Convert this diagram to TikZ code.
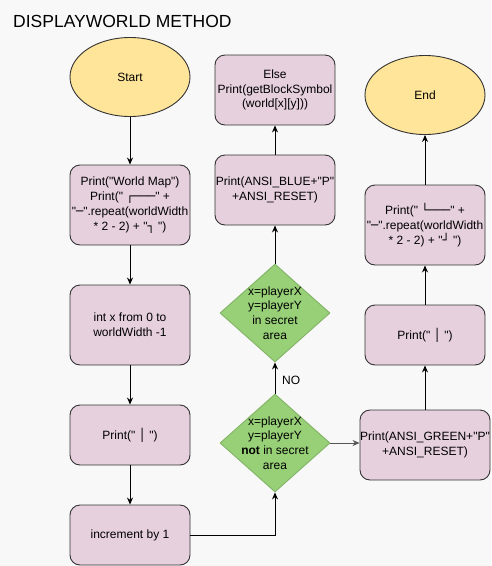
\documentclass[tikz,border=0pt]{standalone}
\usepackage{fontspec}
\newfontfamily\lsans{Liberation Sans}
\newfontfamily\bxfont{DejaVu Sans}
\usetikzlibrary{shapes.geometric,arrows.meta}
\definecolor{bg}{HTML}{F8F8F8}
\definecolor{pinkfill}{HTML}{E6D0DE}
\definecolor{yellowfill}{HTML}{FFE599}
\definecolor{greenfill}{HTML}{97D077}
\definecolor{greenline}{HTML}{82B366}
\definecolor{edgecol}{HTML}{333333}
\definecolor{greyarrow}{HTML}{555555}
\newcommand{\bx}[1]{{\bxfont #1}}
\begin{document}
\begin{tikzpicture}[x=1pt,y=-1pt,
  every node/.style={font=\lsans\fontsize{12}{14.8}\selectfont, align=center, inner sep=0pt},
  procbox/.style={draw=edgecol, line width=0.9pt, fill=pinkfill, rounded corners=10pt, minimum width=120pt},
  term/.style={ellipse, draw=edgecol, line width=0.9pt, fill=yellowfill, minimum width=120pt, minimum height=79pt},
  decision/.style={diamond, draw=greenline, line width=0.9pt, fill=greenfill, minimum width=110pt, minimum height=98pt},
  flow/.style={draw=black, line width=0.9pt, -{Stealth[length=7pt,width=6pt]}}]
\useasboundingbox (0,0) rectangle (491,566);
\fill[bg] (0,0) rectangle (491,566);

\node[anchor=base west, font=\lsans\fontsize{17.5}{20}\selectfont] (title) at (13,27) {DISPLAYWORLD METHOD};

% left column
\node[term] (start) at (130,77) {Start};
\node[procbox, minimum height=80pt] (b1) at (130,205) {Print("World Map")\\Print(" \bx{┌───}" +\\"\bx{─}".repeat(worldWidth\\{}* 2 - 2) + "\bx{┐} ")};
\node[procbox, minimum height=80pt] (b2) at (130,325) {int x from 0 to\\worldWidth -1};
\node[procbox, minimum height=60pt] (b3) at (130,435) {Print(" \bx{│} ")};
\node[procbox, minimum height=60pt] (b4) at (130,535) {increment by 1};

% middle column
\node[decision] (d2) at (275,443) {};
\node (d2t) at (d2.center) {x=playerX\\y=playerY\\\textbf{not} in secret\\area};
\node[decision] (d1) at (275,313) {};
\node (d1t) at (d1.center) {x=playerX\\y=playerY\\in secret\\area};
\node[procbox, minimum height=70pt] (blue) at (275,190) {Print(ANSI\_BLUE+"P"\\+ANSI\_RESET)};
\node[procbox, minimum height=70pt] (else) at (275,90) {Else\\Print(getBlockSymbol\\(world[x][y]))};
\node[anchor=west] (no) at (282,380) {NO};

% right column
\node[term] (end) at (425,95) {End};
\node[procbox, minimum height=80pt] (b5) at (425,225) {Print(" \bx{└───}" +\\"\bx{─}".repeat(worldWidth\\{}* 2 - 2) + "\bx{┘} ")};
\node[procbox, minimum height=60pt] (b6) at (425,335) {Print(" \bx{│} ")};
\node[procbox, minimum width=130pt, minimum height=70pt] (green) at (425,445) {Print(ANSI\_GREEN+"P"\\+ANSI\_RESET)};

% connectors
\draw[flow] (start.south) -- (b1.north);
\draw[flow] (b1.south) -- (b2.north);
\draw[flow] (b2.south) -- (b3.north);
\draw[flow] (b3.south) -- (b4.north);
\draw[flow] (b4.east) -| (d2.south);
\draw[flow] (d2.north) -- (d1.south);
\draw[flow] (d1.north) -- (blue.south);
\draw[flow] (blue.north) -- (else.south);
\draw[flow, draw=greyarrow] (d2.east) -- (d2.east -| green.west);
\draw[flow] (green.north) -- (b6.south);
\draw[flow] (b6.north) -- (b5.south);
\draw[flow] (b5.north) -- (end.south);
\end{tikzpicture}
\end{document}
